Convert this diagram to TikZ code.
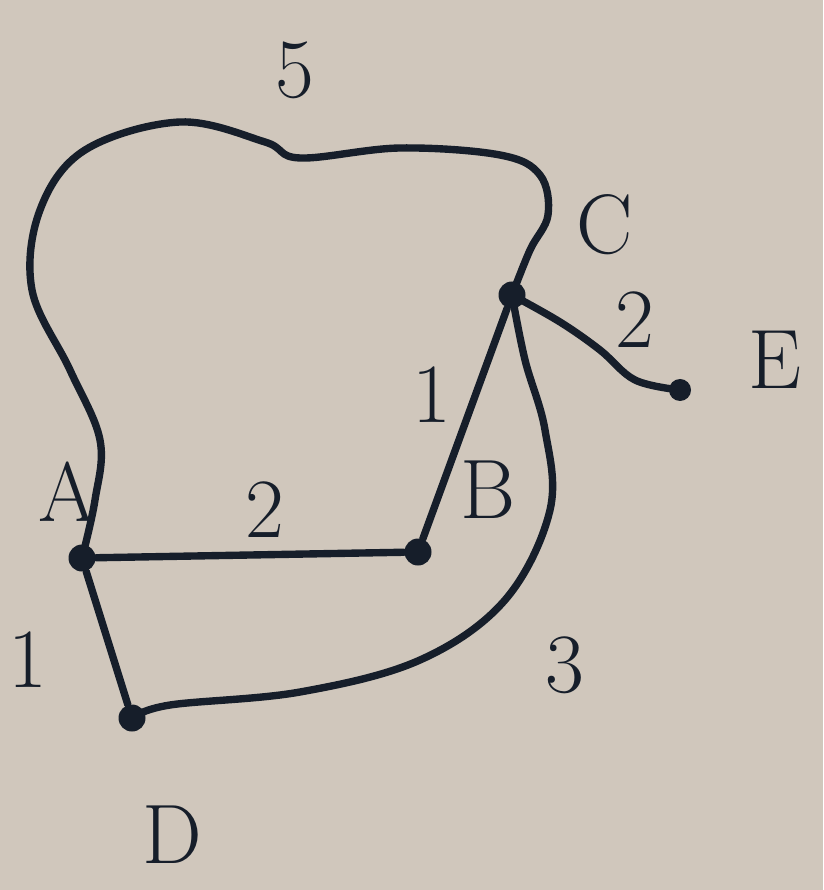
\documentclass[tikz,border=0pt]{standalone}
\usepackage{tikz}

\definecolor{paper}{RGB}{208,199,188}
\definecolor{ink}{RGB}{22,30,42}

\tikzset{
  vertex/.style={circle,fill=ink,inner sep=0pt,minimum size=0.27cm},
  edge/.style={ink,line width=2.1pt,line cap=round,line join=round},
  lbl/.style={text=ink,font=\fontsize{24}{28}\selectfont},
}

\begin{document}
\begin{tikzpicture}
  \fill[paper] (0,0) rectangle (8.23,-8.9);
  \useasboundingbox (0,0) rectangle (8.23,-8.9);
  % vertices
  \node[vertex] (A) at (0.82,-5.58) {};
  \node[vertex] (B) at (4.18,-5.52) {};
  \node[vertex] (C) at (5.12,-2.95) {};
  \node[vertex] (D) at (1.32,-7.18) {};
  \node[vertex,minimum size=0.22cm] (E) at (6.80,-3.90) {};
  % names
  \node[lbl] (nameA) at (0.68,-4.92) {A};
  \node[lbl] (nameB) at (4.88,-4.90) {B};
  \node[lbl] (nameC) at (6.05,-2.25) {C};
  \node[lbl] (nameD) at (1.72,-8.35) {D};
  \node[lbl] (nameE) at (7.75,-3.60) {E};
  % weights
  \node[lbl] (wAC) at (2.95,-0.70) {5};
  \node[lbl] (wAB) at (2.65,-5.10) {2};
  \node[lbl] (wBC) at (4.32,-3.95) {1};
  \node[lbl] (wCE) at (6.35,-3.20) {2};
  \node[lbl] (wAD) at (0.28,-6.60) {1};
  \node[lbl] (wDC) at (5.65,-6.65) {3};
  % edges
  \draw[edge] (A) -- (B);
  \draw[edge] (B) -- (C);
  \draw[edge] (A) -- (D);
  \draw[edge] plot[smooth,tension=0.6] coordinates {(A) (0.95,-5.00) (1.00,-4.40) (0.70,-3.70) (0.32,-2.90) (0.40,-2.10) (0.85,-1.50) (1.80,-1.22) (2.65,-1.42) (3.00,-1.58) (4.00,-1.48) (5.00,-1.55) (5.40,-1.75) (5.48,-2.15) (5.30,-2.50) (C)};
  \draw[edge] plot[smooth,tension=0.6] coordinates {(D) (1.70,-7.05) (3.00,-6.92) (4.20,-6.60) (5.05,-6.00) (5.50,-5.10) (5.45,-4.30) (5.25,-3.60) (C)};
  \draw[edge] plot[smooth,tension=0.6] coordinates {(C) (5.60,-3.22) (6.00,-3.50) (6.35,-3.80) (E)};
\end{tikzpicture}
\end{document}
